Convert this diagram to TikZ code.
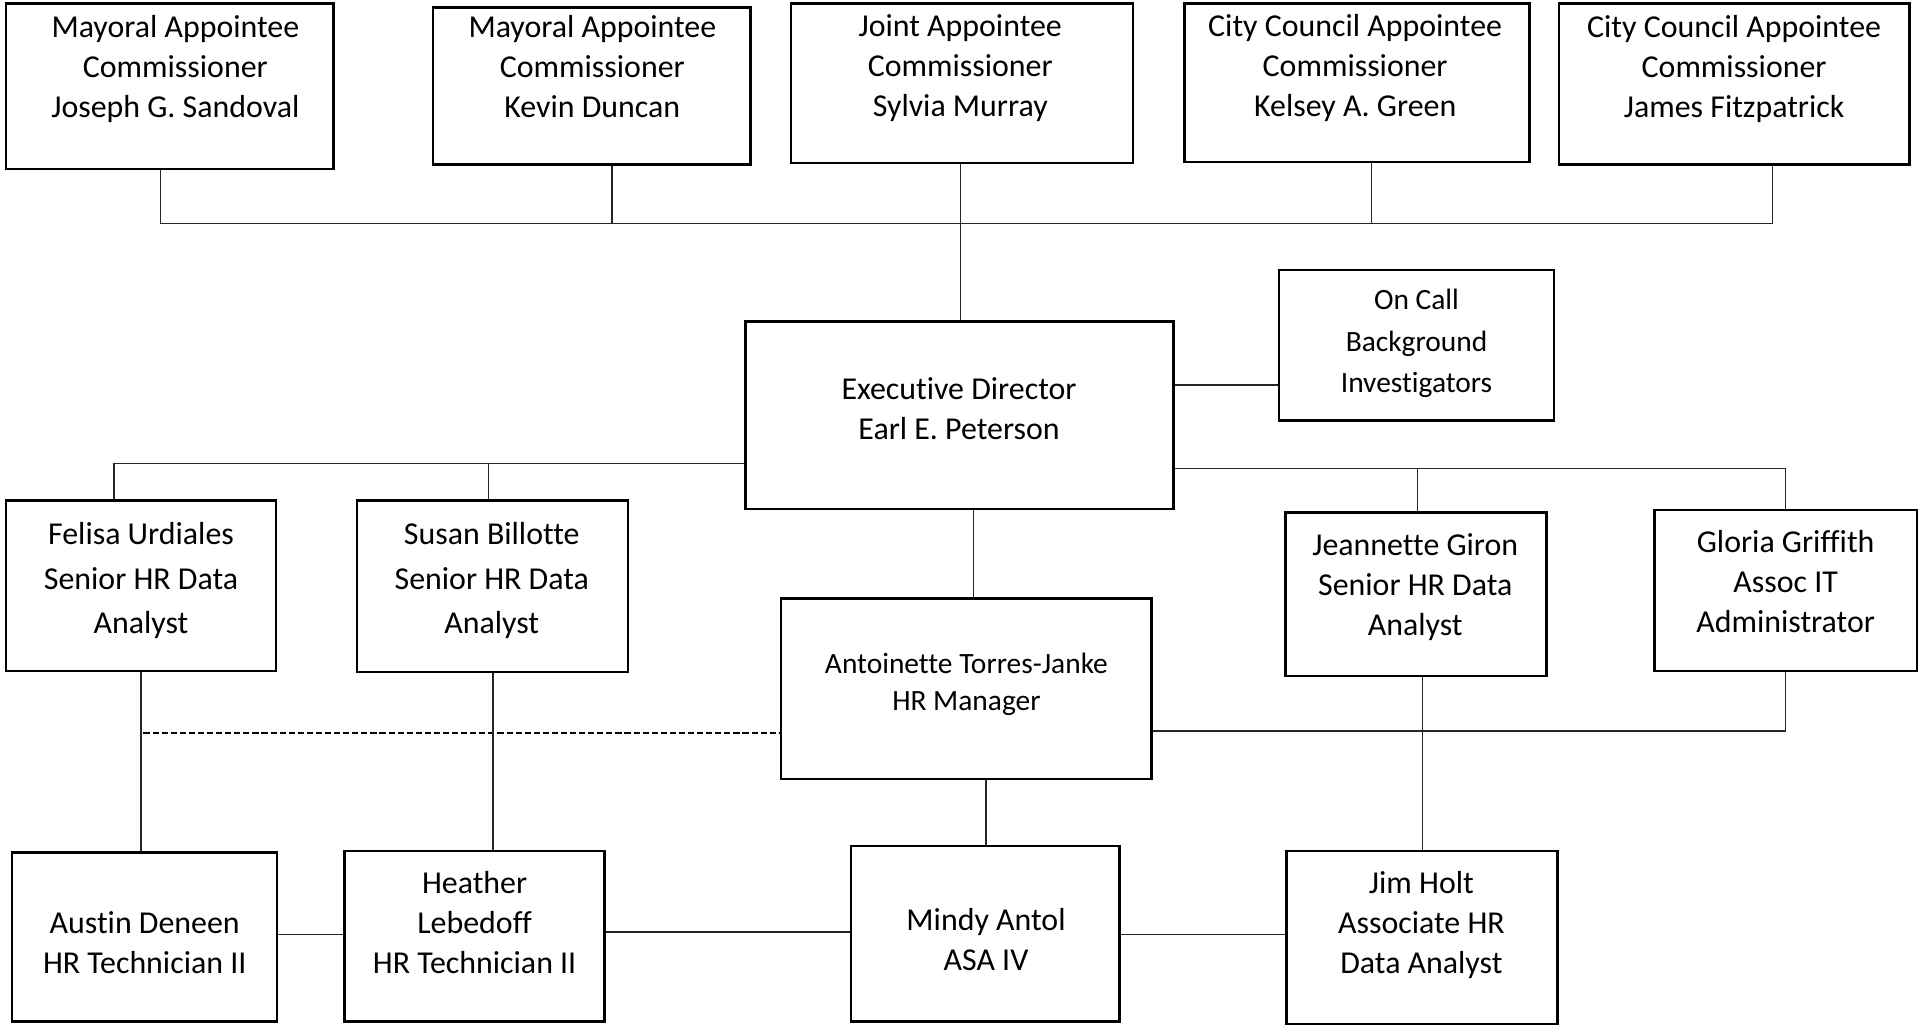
\documentclass[tikz,border=0pt]{standalone}
\usepackage{fontspec}
\setmainfont[Ligatures=NoCommon]{Carlito}
\usetikzlibrary{fit}
\begin{document}
\begin{tikzpicture}[x=0.5pt,y=-0.5pt,
  box/.style={draw=black, line width=1pt, inner sep=0pt, fill=none},
  txt/.style={align=center, inner sep=0pt, font=\fontsize{13}{16.25}\selectfont},
  txtw/.style={align=center, inner sep=0pt, font=\fontsize{13}{18.25}\selectfont},
  txts/.style={align=center, inner sep=0pt, font=\fontsize{12}{15}\selectfont},
  txto/.style={align=center, inner sep=0pt, font=\fontsize{12}{17}\selectfont},
  conn/.style={draw=black!85, line width=0.5pt},
  dashconn/.style={draw=black, line width=0.8pt, dash pattern=on 2.5pt off 1.2pt}]
\useasboundingbox[fill=white] (0,0) rectangle (1568,835);

% top row
\node[box, fit={(5,3) (272,138)}] (b1) {};
\node[box, fit={(353,6) (612,134)}] (b2) {};
\node[box, fit={(645,3) (924,133)}] (b3) {};
\node[box, fit={(966,3) (1247,132)}] (b4) {};
\node[box, fit={(1271,3) (1557,134)}] (b5) {};
\node[txt] (b1t) at (143,56.5) {Mayoral Appointee\\Commissioner\\Joseph G. Sandoval};
\node[txt] (b2t) at (483,54.5) {Mayoral Appointee\\Commissioner\\Kevin Duncan};
\node[txt] (b3t) at (783,55.5) {Joint Appointee\\Commissioner\\Sylvia Murray};
\node[txt] (b4t) at (1105,55.5) {City Council Appointee\\Commissioner\\Kelsey A. Green};
\node[txt] (b5t) at (1414,56.5) {City Council Appointee\\Commissioner\\James Fitzpatrick};

% executive
\node[box, fit={(608,262) (957,415)}] (ex) {};
\node[txt] (ext) at (782,333) {Executive Director\\Earl E. Peterson};
\node[box, fit={(1043,220) (1267,343)}] (on) {};
\node[txto] (ont) at (1155,280) {On Call\\Background\\Investigators};

% second row
\node[box, fit={(5,408) (225,547)}] (fe) {};
\node[txtw] (fet) at (115,473.5) {Felisa Urdiales\\Senior HR Data\\Analyst};
\node[box, fit={(291,408) (512,548)}] (su) {};
\node[txtw] (sut) at (401,473.5) {Susan Billotte\\Senior HR Data\\Analyst};
\node[box, fit={(1048,418) (1261,551)}] (je) {};
\node[txt] (jet) at (1154,478.5) {Jeannette Giron\\Senior HR Data\\Analyst};
\node[box, fit={(1349,416) (1563,547)}] (gl) {};
\node[txt] (glt) at (1456,474) {Gloria Griffith\\Assoc IT\\Administrator};

% manager
\node[box, fit={(637,488) (939,635)}] (an) {};
\node[txts] (ant) at (788,558) {Antoinette Torres-Janke\\HR Manager};

% bottom row
\node[box, fit={(10,695) (226,833)}] (au) {};
\node[txt] (aut) at (118,768.5) {Austin Deneen\\HR Technician II};
\node[box, fit={(281,694) (493,833)}] (he) {};
\node[txt] (het) at (387,752) {Heather\\Lebedoff\\HR Technician II};
\node[box, fit={(694,690) (913,833)}] (mi) {};
\node[txt] (mit) at (804,766) {Mindy Antol\\ASA IV};
\node[box, fit={(1049,694) (1270,835)}] (jim) {};
\node[txt] (jimt) at (1159,754) {Jim Holt\\Associate HR\\Data Analyst};

% junction coordinates
\coordinate (h1) at (131,182);
\coordinate (h2) at (499,182);
\coordinate (h3) at (783,182);
\coordinate (h4) at (1118,182);
\coordinate (h5) at (1445,182);
\coordinate (oc) at (1000,314);
\coordinate (l1) at (93,378);
\coordinate (l2) at (398,378);
\coordinate (r1) at (1156,382);
\coordinate (r2) at (1456,382);
\coordinate (d1) at (794,450);
\coordinate (m1) at (1456,596);
\coordinate (j1) at (1160,620);
\coordinate (dd) at (117,598);
\coordinate (f1) at (115,620);
\coordinate (s1) at (402,620);
\coordinate (a1) at (804,660);
\coordinate (e1) at (250,762);
\coordinate (e2) at (600,760);
\coordinate (e3) at (980,762);

% top connectors
\draw[conn] (h1 |- b1.south) -- (h1) -- (h5) -- (h5 |- b5.south);
\draw[conn] (h2 |- b2.south) -- (h2);
\draw[conn] (h4 |- b4.south) -- (h4);
\draw[conn] (h3 |- b3.south) -- (h3 |- ex.north);

% exec connectors
\draw[conn] (oc -| ex.east) -- (oc -| on.west);
\draw[conn] (l1 -| ex.west) -- (l1) -- (l1 |- fe.north);
\draw[conn] (l2) -- (l2 |- su.north);
\draw[conn] (r1 -| ex.east) -- (r2) -- (r2 |- gl.north);
\draw[conn] (r1) -- (r1 |- je.north);
\draw[conn] (d1 |- ex.south) -- (d1 |- an.north);

% manager connectors
\draw[conn] (m1 -| an.east) -- (m1) -- (m1 |- gl.south);
\draw[conn] (j1 |- je.south) -- (j1 |- jim.north);
\draw[dashconn] (dd) -- (dd -| an.west);
\draw[conn] (f1 |- fe.south) -- (f1 |- au.north);
\draw[conn] (s1 |- su.south) -- (s1 |- he.north);
\draw[conn] (a1 |- an.south) -- (a1 |- mi.north);

% bottom connectors
\draw[conn] (e1 -| au.east) -- (e1 -| he.west);
\draw[conn] (e2 -| he.east) -- (e2 -| mi.west);
\draw[conn] (e3 -| mi.east) -- (e3 -| jim.west);
\end{tikzpicture}
\end{document}
